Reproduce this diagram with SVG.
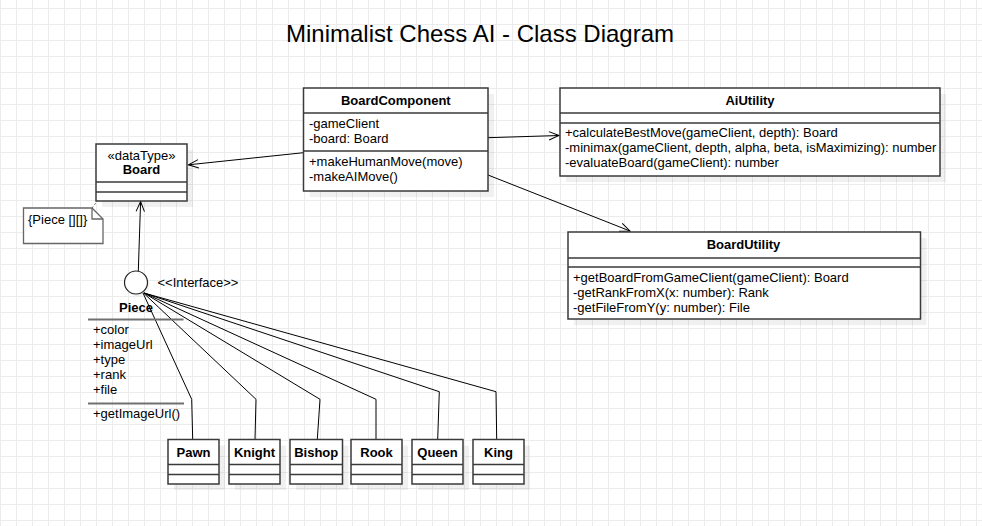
<svg xmlns="http://www.w3.org/2000/svg" width="982" height="526" viewBox="0 0 982 526">
  <defs>
    <pattern id="grid" x="0" y="8" width="16" height="16" patternUnits="userSpaceOnUse">
      <path d="M0.5 0V16M0 0.5H16" fill="none" stroke="#ececec" stroke-width="1"/>
    </pattern>
    <marker id="open" viewBox="0 0 12 10" refX="11" refY="5" markerWidth="12" markerHeight="10" markerUnits="userSpaceOnUse" orient="auto">
      <path d="M1 0.8L11 5L1 9.2" fill="none" stroke="#000" stroke-width="1"/>
    </marker>
    <style>
      text { font-family: "Liberation Sans", Arial, sans-serif; font-size: 13px; fill: #000; }
      .title { font-size: 24px; }
      .name { font-weight: bold; text-anchor: middle; }
      .mid { text-anchor: middle; }
      .box { fill: #fff; stroke: #3a3a3a; stroke-width: 1.5; }
      .sep { stroke: #3a3a3a; stroke-width: 1.5; fill: none; }
      .shadow { fill: #000; fill-opacity: 0.06; }
      .edge { fill: none; stroke: #000; stroke-width: 1; }
      .note { fill: #fff; stroke: #666; stroke-width: 1.3; }
      .rule { stroke: #707070; stroke-width: 2; }
    </style>
  </defs>

  <!-- canvas -->
  <rect width="982" height="526" fill="#fff"/>
  <rect width="982" height="526" fill="url(#grid)"/>

  <text class="title mid" x="480" y="41.5">Minimalist Chess AI - Class Diagram</text>

  <!-- connectors -->
  <g id="connectors">
    <line class="edge" x1="303.5" y1="152.7" x2="188.5" y2="164.8" marker-end="url(#open)"/>
    <line class="edge" x1="488" y1="137.7" x2="559" y2="135.5" marker-end="url(#open)"/>
    <line class="edge" x1="488" y1="175" x2="630" y2="231" marker-end="url(#open)"/>
    <line class="edge" x1="138.3" y1="271" x2="140.6" y2="201.5" marker-end="url(#open)"/>
    <line x1="92" y1="208" x2="97" y2="201.5" stroke="#666" stroke-width="1" stroke-dasharray="2 2"/>
    <polyline class="edge" points="143,293 191.7,399.3 192.7,439.3"/>
    <polyline class="edge" points="143.5,293 256,399.3 255,439.3"/>
    <polyline class="edge" points="144,293 320,399.3 317.3,439.3"/>
    <polyline class="edge" points="144,293 376,399.3 376,439.3"/>
    <polyline class="edge" points="144,293 439.3,391.7 437.7,439.3"/>
    <polyline class="edge" points="144,293 496,391.7 496.7,439.3"/>
  </g>

  <!-- BoardComponent -->
  <g id="BoardComponent">
    <rect class="shadow" x="309.5" y="94" width="184.5" height="103"/>
    <rect class="box" x="303.5" y="88" width="184.5" height="103"/>
    <line class="sep" x1="303.5" y1="113" x2="488" y2="113"/>
    <line class="sep" x1="303.5" y1="151" x2="488" y2="151"/>
    <text class="name" x="395.8" y="105">BoardComponent</text>
    <text x="309" y="128">-gameClient</text>
    <text x="309" y="143">-board: Board</text>
    <text x="309" y="166">+makeHumanMove(move)</text>
    <text x="309" y="181">-makeAIMove()</text>
  </g>

  <!-- AiUtility -->
  <g id="AiUtility">
    <rect class="shadow" x="566" y="94" width="380" height="88"/>
    <rect class="box" x="560" y="88" width="380" height="88"/>
    <line class="sep" x1="560" y1="113" x2="940" y2="113"/>
    <line class="sep" x1="560" y1="123" x2="940" y2="123"/>
    <text class="name" x="750" y="105">AiUtility</text>
    <text x="565" y="137">+calculateBestMove(gameClient, depth): Board</text>
    <text x="565" y="152">-minimax(gameClient, depth, alpha, beta, isMaximizing): number</text>
    <text x="565" y="166.5">-evaluateBoard(gameClient): number</text>
  </g>

  <!-- BoardUtility -->
  <g id="BoardUtility">
    <rect class="shadow" x="574" y="238" width="352.5" height="87"/>
    <rect class="box" x="568" y="232" width="352.5" height="87"/>
    <line class="sep" x1="568" y1="258" x2="920.5" y2="258"/>
    <line class="sep" x1="568" y1="267" x2="920.5" y2="267"/>
    <text class="name" x="743.5" y="249">BoardUtility</text>
    <text x="573" y="282">+getBoardFromGameClient(gameClient): Board</text>
    <text x="573" y="297">-getRankFromX(x: number): Rank</text>
    <text x="573" y="311.5">-getFileFromY(y: number): File</text>
  </g>

  <!-- Board data type -->
  <g id="Board">
    <rect class="shadow" x="102" y="150" width="91" height="57"/>
    <rect class="box" x="96" y="144" width="91" height="57"/>
    <line class="sep" x1="96" y1="182" x2="187" y2="182"/>
    <line class="sep" x1="96" y1="192" x2="187" y2="192"/>
    <text class="mid" x="141.5" y="160">«dataType»</text>
    <text class="name" x="141.5" y="174">Board</text>
  </g>

  <!-- note on Board -->
  <g id="BoardNote">
    <path class="note" d="M23.5 208H92L103 219V243.5H23.5Z"/>
    <path d="M92 208V219H103" fill="none" stroke="#666" stroke-width="1.3"/>
    <text x="28" y="223.5">{Piece [][]}</text>
  </g>

  <!-- Piece interface -->
  <g id="Piece">
    <circle cx="138" cy="284.5" r="11.5" fill="#000" fill-opacity="0.06"/>
    <circle cx="136" cy="282.5" r="11.5" fill="#fff" stroke="#222" stroke-width="1.2"/>
    <text x="157.5" y="286.5">&lt;&lt;Interface&gt;&gt;</text>
    <text class="name" x="136" y="311.5">Piece</text>
    <line class="rule" x1="88" y1="319.5" x2="183.5" y2="319.5"/>
    <text x="93" y="334">+color</text>
    <text x="93" y="349">+imageUrl</text>
    <text x="93" y="364">+type</text>
    <text x="93" y="379">+rank</text>
    <text x="93" y="393.5">+file</text>
    <line class="rule" x1="88" y1="403.5" x2="184" y2="403.5"/>
    <text x="93" y="417.5">+getImageUrl()</text>
  </g>

  <!-- concrete pieces -->
  <g id="Pawn">
    <rect class="shadow" x="174" y="445.5" width="51" height="44.5"/>
    <rect class="box" x="168" y="439.5" width="51" height="44.5"/>
    <line class="sep" x1="168" y1="464.5" x2="219" y2="464.5"/>
    <line class="sep" x1="168" y1="474.5" x2="219" y2="474.5"/>
    <text class="name" x="193.5" y="457">Pawn</text>
  </g>
  <g id="Knight">
    <rect class="shadow" x="235" y="445.5" width="51" height="44.5"/>
    <rect class="box" x="229" y="439.5" width="51" height="44.5"/>
    <line class="sep" x1="229" y1="464.5" x2="280" y2="464.5"/>
    <line class="sep" x1="229" y1="474.5" x2="280" y2="474.5"/>
    <text class="name" x="254.5" y="457">Knight</text>
  </g>
  <g id="Bishop">
    <rect class="shadow" x="296" y="445.5" width="52.5" height="44.5"/>
    <rect class="box" x="290" y="439.5" width="52.5" height="44.5"/>
    <line class="sep" x1="290" y1="464.5" x2="342.5" y2="464.5"/>
    <line class="sep" x1="290" y1="474.5" x2="342.5" y2="474.5"/>
    <text class="name" x="316.2" y="457">Bishop</text>
  </g>
  <g id="Rook">
    <rect class="shadow" x="357" y="445.5" width="51" height="44.5"/>
    <rect class="box" x="351" y="439.5" width="51" height="44.5"/>
    <line class="sep" x1="351" y1="464.5" x2="402" y2="464.5"/>
    <line class="sep" x1="351" y1="474.5" x2="402" y2="474.5"/>
    <text class="name" x="376.5" y="457">Rook</text>
  </g>
  <g id="Queen">
    <rect class="shadow" x="418" y="445.5" width="51" height="44.5"/>
    <rect class="box" x="412" y="439.5" width="51" height="44.5"/>
    <line class="sep" x1="412" y1="464.5" x2="463" y2="464.5"/>
    <line class="sep" x1="412" y1="474.5" x2="463" y2="474.5"/>
    <text class="name" x="437.5" y="457">Queen</text>
  </g>
  <g id="King">
    <rect class="shadow" x="479" y="445.5" width="51" height="44.5"/>
    <rect class="box" x="473" y="439.5" width="51" height="44.5"/>
    <line class="sep" x1="473" y1="464.5" x2="524" y2="464.5"/>
    <line class="sep" x1="473" y1="474.5" x2="524" y2="474.5"/>
    <text class="name" x="498.5" y="457">King</text>
  </g>
</svg>
